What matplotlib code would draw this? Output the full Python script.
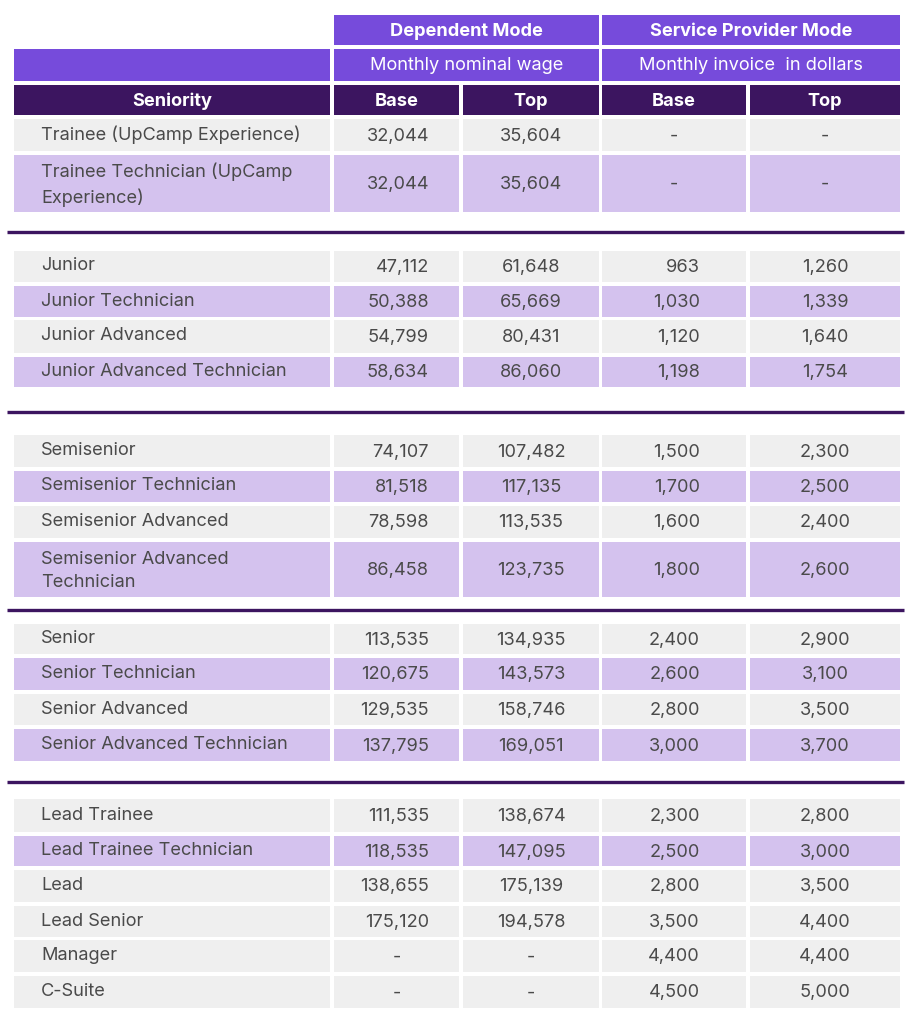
import matplotlib
matplotlib.use("Agg")
import matplotlib.pyplot as plt
from matplotlib.patches import Rectangle

# ---------------- data ----------------
seniority = [
    "Trainee (UpCamp Experience)",
    "Trainee Technician (UpCamp\nExperience)",
    "Junior", "Junior Technician", "Junior Advanced", "Junior Advanced Technician",
    "Semisenior", "Semisenior Technician", "Semisenior Advanced", "Semisenior Advanced\nTechnician",
    "Senior", "Senior Technician", "Senior Advanced", "Senior Advanced Technician",
    "Lead Trainee", "Lead Trainee Technician", "Lead", "Lead Senior", "Manager", "C-Suite",
]
dep_base = [32044, 32044, 47112, 50388, 54799, 58634, 74107, 81518, 78598, 86458,
            113535, 120675, 129535, 137795, 111535, 118535, 138655, 175120, None, None]
dep_top = [35604, 35604, 61648, 65669, 80431, 86060, 107482, 117135, 113535, 123735,
           134935, 143573, 158746, 169051, 138674, 147095, 175139, 194578, None, None]
sp_base = [None, None, 963, 1030, 1120, 1198, 1500, 1700, 1600, 1800,
           2400, 2600, 2800, 3000, 2300, 2500, 2800, 3500, 4400, 4500]
sp_top = [None, None, 1260, 1339, 1640, 1754, 2300, 2500, 2400, 2600,
          2900, 3100, 3500, 3700, 2800, 3000, 3500, 4400, 4400, 5000]
highlight = [0, 1, 0, 1, 0, 1, 0, 1, 0, 1, 0, 1, 0, 1, 0, 1, 0, 0, 0, 0]
mode_titles = ["Dependent Mode", "Service Provider Mode"]
mode_subtitles = ["Monthly nominal wage", "Monthly invoice  in dollars"]
col_headers = ["Seniority", "Base", "Top", "Base", "Top"]

# ---------------- layout (pixels) ----------------
W, H = 914, 1024
col_x = [(14, 330), (334, 459), (463, 599), (602, 746), (750, 900)]
row_y = [(119, 151), (155, 212),
         (251, 282), (286, 317), (320, 353), (357, 387),
         (435, 467), (471, 502), (506, 538), (542, 597),
         (624, 654), (658, 690), (694, 725), (729, 761),
         (799, 832), (836, 866), (870, 902), (906, 937), (940, 972), (976, 1008)]
sep_y = [232, 412, 610, 782]
hdr1 = (15, 45)
hdr2 = (49, 81)
hdr3 = (85, 115)

C_PURPLE = "#764BDB"
C_DARK = "#3C1560"
C_LIGHT = "#D4C2EE"
C_GRAY = "#EFEFEF"
C_TEXT = "#4A4A4A"
FONT = ["Inter", "DejaVu Sans"]
FS = 13.1

fig = plt.figure(figsize=(W / 100, H / 100), dpi=100)
ax = fig.add_axes([0, 0, 1, 1])
ax.set_xlim(0, W)
ax.set_ylim(H, 0)
ax.axis("off")


def cell(x0, x1, y0, y1, color):
    ax.add_patch(Rectangle((x0, y0), x1 - x0, y1 - y0, facecolor=color, edgecolor="none"))


# header row 1
for i, title in enumerate(mode_titles):
    x0 = col_x[1 + 2 * i][0]
    x1 = col_x[2 + 2 * i][1]
    cell(x0, x1, *hdr1, C_PURPLE)
    ax.text((x0 + x1) / 2, sum(hdr1) / 2 + 1.5, title, ha="center", va="center",
            color="white", fontsize=FS, fontweight="bold", family=FONT)
# header row 2
cell(col_x[0][0], col_x[0][1], *hdr2, C_PURPLE)
for i, sub in enumerate(mode_subtitles):
    x0 = col_x[1 + 2 * i][0]
    x1 = col_x[2 + 2 * i][1]
    cell(x0, x1, *hdr2, C_PURPLE)
    ax.text((x0 + x1) / 2, sum(hdr2) / 2 + 1, sub, ha="center", va="center",
            color="white", fontsize=FS, family=FONT)
# header row 3
for (x0, x1), lab in zip(col_x, col_headers):
    cell(x0, x1, *hdr3, C_DARK)
    ax.text((x0 + x1) / 2, sum(hdr3) / 2 + 1.5, lab, ha="center", va="center",
            color="white", fontsize=FS, fontweight="bold", family=FONT)

# separators
for y in sep_y:
    ax.plot([7, 904], [y, y], color=C_DARK, lw=2.4, solid_capstyle="butt")


def fmt(v):
    return "-" if v is None else f"{v:,}"


right_anchor = {1: 429, 3: 700}
for r, (y0, y1) in enumerate(row_y):
    color = C_LIGHT if highlight[r] else C_GRAY
    for x0, x1 in col_x:
        cell(x0, x1, y0, y1, color)
    yc = (y0 + y1) / 2
    multi = "\n" in seniority[r]
    ax.text(41, yc + (1.5 if multi else -0.5), seniority[r], ha="left", va="center",
            color=C_TEXT, fontsize=FS, family=FONT, linespacing=1.5)
    for c, series in zip(range(1, 5), [dep_base, dep_top, sp_base, sp_top]):
        v = series[r]
        x0, x1 = col_x[c]
        if v is not None and c in right_anchor:
            ax.text(right_anchor[c], yc + 1, fmt(v), ha="right", va="center",
                    color=C_TEXT, fontsize=FS, family=FONT)
        else:
            ax.text((x0 + x1) / 2, yc + 1, fmt(v), ha="center", va="center",
                    color=C_TEXT, fontsize=FS, family=FONT)

fig.savefig("out.png", dpi=100, facecolor="white")
